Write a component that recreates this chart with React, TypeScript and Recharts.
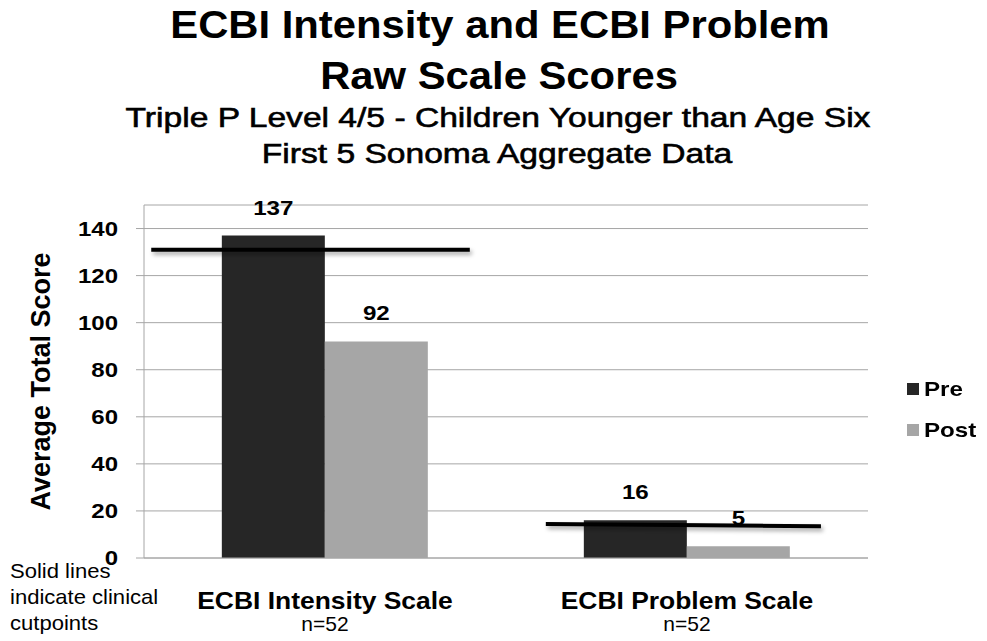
import React from "react";
import {
  BarChart,
  Bar,
  XAxis,
  YAxis,
  CartesianGrid,
  Legend,
  ReferenceLine,
  LabelList,
} from "recharts";

const categories = ["ECBI Intensity Scale", "ECBI Problem Scale"];
const sampleSizes = ["n=52", "n=52"];
const seriesNames = ["Pre", "Post"];
const preScores = [137, 16];
const postScores = [92, 5];
const yTicks = [0, 20, 40, 60, 80, 100, 120, 140];
// clinical cutpoints: start/end x in category units (0..2), start/end score
const cutpointX = [
  [0.02, 0.9],
  [1.11, 1.87],
];
const cutpointY = [
  [131, 131],
  [14.5, 13.5],
];
const titleLines = ["ECBI Intensity and ECBI Problem", "Raw Scale Scores"];
const subtitleLines = ["Triple P Level 4/5 - Children Younger than Age Six", "First 5 Sonoma Aggregate Data"];
const noteLines = ["Solid lines", "indicate clinical", "cutpoints"];

const data = categories.map((name, i) => ({
  name,
  n: sampleSizes[i],
  Pre: preScores[i],
  Post: postScores[i],
}));

const FONT = '"Liberation Sans", Arial, sans-serif';
const GRID = "#a6a6a6";
const COLORS: Record<string, string> = { Pre: "#262626", Post: "#a6a6a6" };

// the original picture is stretched sideways, so text gets a horizontal scale
const SText = ({ x, y, sx = 1, anchor = "middle", size, bold, stroke, children }: any) => (
  <text
    transform={`translate(${x},${y}) scale(${sx},1)`}
    x={0}
    y={0}
    textAnchor={anchor}
    fontFamily={FONT}
    fontWeight={bold ? "bold" : "normal"}
    fontSize={size}
    fill="#000"
    stroke={stroke ? "#000" : undefined}
    strokeWidth={stroke || undefined}
  >
    {children}
  </text>
);

const CategoryTick = ({ x, y, payload, index }: any) => (
  <g>
    <SText x={x} y={y + 43} sx={1.15} size={23} bold>
      {payload.value}
    </SText>
    <SText x={x} y={y + 65} size={21}>
      {sampleSizes[index]}
    </SText>
  </g>
);

const ValueTick = ({ x, y, payload }: any) => (
  <SText x={x - 16} y={y + 7} sx={1.2} anchor="end" size={20} bold>
    {payload.value}
  </SText>
);

const ValueLabel = ({ x, y, width, value }: any) => (
  <SText x={x + width / 2} y={y - 21} sx={1.15} size={21} bold>
    {value}
  </SText>
);

const LegendContent = ({ payload }: any) => {
  const items = seriesNames
    .map((s) => (payload || []).find((p: any) => p.value === s))
    .filter(Boolean);
  return (
    <div style={{ fontFamily: FONT, fontWeight: "bold", fontSize: 21 }}>
      {items.map((p: any) => (
        <div key={p.value} style={{ display: "flex", alignItems: "center", height: 41 }}>
          <span style={{ width: 12, height: 12, background: p.color, marginRight: 5, display: "inline-block" }} />
          <span style={{ display: "inline-block", transform: "scaleX(1.15)", transformOrigin: "left center" }}>
            {p.value}
          </span>
        </div>
      ))}
    </div>
  );
};

export default function App() {
  return (
    <div style={{ position: "relative", width: 987, height: 641, background: "#fff", fontFamily: FONT }}>
      <style>{`body{margin:0}`}</style>
      <div style={{ position: "absolute", left: 0, top: 0 }}>
        <BarChart
          width={987}
          height={641}
          data={data}
          margin={{ top: 205, right: 39, bottom: 0, left: 0 }}
          barCategoryGap="21.5%"
          barGap={0}
        >
          <defs>
            <filter id="lineShadow" filterUnits="userSpaceOnUse" x={0} y={0} width={987} height={641}>
              <feDropShadow dx="2" dy="3" stdDeviation="2" floodColor="#000" floodOpacity="0.35" />
            </filter>
          </defs>
          <CartesianGrid vertical={false} stroke={GRID} strokeWidth={1} />
          <XAxis
            dataKey="name"
            height={83}
            axisLine={{ stroke: GRID }}
            tickLine={false}
            tick={<CategoryTick />}
            interval={0}
          />
          {/* hidden 0..1 axis spanning the plot width, for the cutpoint segments */}
          <XAxis xAxisId="frac" type="number" domain={[0, 1]} allowDataOverflow hide />
          <YAxis
            domain={[0, 150]}
            ticks={yTicks}
            axisLine={{ stroke: GRID }}
            tickLine={{ stroke: GRID }}
            tickSize={8}
            tick={<ValueTick />}
            width={144}
            label={{
              value: "Average Total Score",
              angle: -90,
              position: "insideLeft",
              offset: 0,
              style: { fontFamily: FONT, fontWeight: "bold", fontSize: 27, fill: "#000", textAnchor: "middle" },
              dx: 40,
            }}
          />
          <Legend
            layout="vertical"
            align="right"
            verticalAlign="middle"
            content={<LegendContent />}
            wrapperStyle={{ left: 907, top: 368, width: 80 }}
          />
          <Bar dataKey="Pre" fill={COLORS.Pre} isAnimationActive={false}>
            <LabelList dataKey="Pre" content={<ValueLabel />} />
          </Bar>
          <Bar dataKey="Post" fill={COLORS.Post} isAnimationActive={false}>
            <LabelList dataKey="Post" content={<ValueLabel />} />
          </Bar>
          {cutpointX.map((xs, i) => (
            <ReferenceLine
              key={i}
              xAxisId="frac"
              segment={[
                { x: xs[0] / categories.length, y: cutpointY[i][0] },
                { x: xs[1] / categories.length, y: cutpointY[i][1] },
              ]}
              stroke="#000"
              strokeWidth={4}
              filter="url(#lineShadow)"
              ifOverflow="visible"
            />
          ))}
        </BarChart>
      </div>
      <svg width={987} height={200} style={{ position: "absolute", left: 0, top: 0, pointerEvents: "none" }}>
        <SText x={500} y={38} sx={1.1} size={38} bold>
          {titleLines[0]}
        </SText>
        <SText x={499} y={89} sx={1.1} size={38} bold>
          {titleLines[1]}
        </SText>
        <SText x={498} y={127} sx={1.2} size={28} stroke={0.6}>
          {subtitleLines[0]}
        </SText>
        <SText x={497} y={163} sx={1.2} size={28} stroke={0.6}>
          {subtitleLines[1]}
        </SText>
      </svg>
      <svg width={180} height={91} style={{ position: "absolute", left: 0, top: 550, pointerEvents: "none" }}>
        {noteLines.map((t, i) => (
          <SText key={t} x={10} y={28 + i * 26} sx={1.05} anchor="start" size={21}>
            {t}
          </SText>
        ))}
      </svg>
    </div>
  );
}
